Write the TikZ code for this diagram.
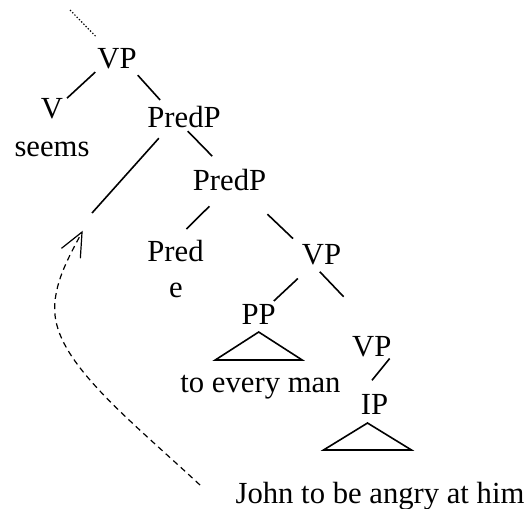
\documentclass[tikz,border=0pt]{standalone}
\usepackage{fontspec}
\setmainfont{Liberation Serif}
\usepackage{tikz}
\usetikzlibrary{positioning,arrows.meta}

\begin{document}
\begin{tikzpicture}[x=0.375pt,y=-0.375pt,
        font=\fontsize{11.5}{13.5}\selectfont,
        every node/.style={inner sep=0pt,outer sep=0pt,anchor=base},
        branch/.style={line width=0.6pt},
        movement/.style={dash pattern=on 2.2pt off 1.6pt,line width=0.45pt,
            -{Straight Barb[length=9pt,width=8pt]}}]
        \useasboundingbox (0,0) rectangle (532,508);

        %% Labels
        \node (vp0) at (117,68) {VP};
        \node (v) at (52,118) {V};
        \node (seems) at (52,156) {seems};
        \node (pp1) at (184,127) {PredP};
        \node (pp2) at (229.5,190) {PredP};
        \node (pred) at (175.5,261) {Pred};
        \node (e) at (176,297) {e};
        \node (vp2) at (321.5,264) {VP};
        \node (pp) at (258.7,324) {PP};
        \node (every) at (260.5,392) {to every man};
        \node (vp3) at (371.7,356) {VP};
        \node (ip) at (374.5,414) {IP};
        \node (john) at (380,503) {John to be angry at him};

        \coordinate (top) at (70,10);
        \coordinate (trace) at (92,213);
        \coordinate (src) at (200,485);

        %% Branches
        \draw[dash pattern=on 0.5pt off 0.7pt,line width=0.45pt,shorten >=5.9pt] (top) -- (vp0);
        \draw[branch,shorten <=2pt,shorten >=2pt] (vp0.210) -- (v.30);
        \draw[branch,shorten <=3.4pt,shorten >=2.9pt] (vp0.-35) -- (pp1.150);
        \draw[branch,shorten <=5.5pt] (pp1.215) -- (trace);
        \draw[branch,shorten <=2pt,shorten >=6.6pt] (pp1.south) -- (pp2.115);
        \draw[branch,shorten <=8.5pt,shorten >=5.7pt] (pp2.250) -- (pred.north);
        \draw[branch,shorten <=13pt,shorten >=4.6pt] (pp2.-40) -- (vp2.160);
        \draw[branch,shorten <=7.7pt,shorten >=1.6pt] (vp2.230) -- (pp.40);
        \draw[branch,shorten <=3.75pt,shorten >=20.3pt] (vp2.230) -- (vp3.48);
        \draw[branch,shorten <=1pt,shorten >=6.6pt] (vp3.south east) -- (ip.north west);

        %% Triangles
        \draw[branch,line join=miter] (pp.south) ++(0,8) -- ++(-43.5,28) -- ++(87,0) -- cycle;
        \draw[branch,line join=miter] (ip.south) ++(-7,9) -- ++(-44,27) -- ++(88,0) -- cycle;

        %% Movement
        \draw[movement,shorten >=7.5pt] (src) .. controls (130,420) and (60,365) .. (55,315)
            .. controls (52,285) and (70,255) .. (trace);
\end{tikzpicture}
\end{document}
